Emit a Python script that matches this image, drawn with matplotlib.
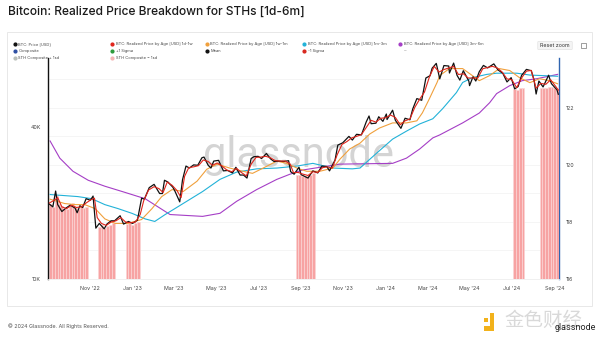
import numpy as np
import pandas as pd
import matplotlib
matplotlib.use("Agg")
import matplotlib.pyplot as plt
import matplotlib.dates as mdates
from matplotlib.lines import Line2D
from matplotlib.patches import Rectangle, FancyBboxPatch

plt.rcParams['font.family'] = ['Inter', 'DejaVu Sans']

# ---------------------------------------------------------------------------
# data (values in USD thousands)
# ---------------------------------------------------------------------------
price_dates = [
    "2022-09-03", "2022-09-08", "2022-09-12", "2022-09-15", "2022-09-21", "2022-09-27",
    "2022-10-03", "2022-10-10", "2022-10-13", "2022-10-17", "2022-10-21", "2022-10-26",
    "2022-11-01", "2022-11-05", "2022-11-09", "2022-11-14", "2022-11-21", "2022-11-25",
    "2022-12-01", "2022-12-06", "2022-12-14", "2022-12-19", "2022-12-26", "2023-01-01",
    "2023-01-08", "2023-01-14", "2023-01-18", "2023-01-25", "2023-02-01", "2023-02-09",
    "2023-02-13", "2023-02-16", "2023-02-21", "2023-02-28", "2023-03-03", "2023-03-10",
    "2023-03-14", "2023-03-19", "2023-03-24", "2023-03-30", "2023-04-05", "2023-04-11",
    "2023-04-14", "2023-04-20", "2023-04-24", "2023-04-28", "2023-05-05", "2023-05-12",
    "2023-05-18", "2023-05-25", "2023-05-30", "2023-06-05", "2023-06-10", "2023-06-15",
    "2023-06-21", "2023-06-25", "2023-07-01", "2023-07-06", "2023-07-13", "2023-07-19",
    "2023-07-24", "2023-07-31", "2023-08-07", "2023-08-14", "2023-08-17", "2023-08-22",
    "2023-08-29", "2023-09-01", "2023-09-11", "2023-09-18", "2023-09-25", "2023-10-01",
    "2023-10-08", "2023-10-12", "2023-10-20", "2023-10-24", "2023-10-31", "2023-11-09",
    "2023-11-14", "2023-11-20", "2023-11-27", "2023-12-04", "2023-12-08", "2023-12-11",
    "2023-12-18", "2023-12-22", "2023-12-28", "2024-01-02", "2024-01-03", "2024-01-11",
    "2024-01-15", "2024-01-23", "2024-01-29", "2024-02-05", "2024-02-09", "2024-02-15",
    "2024-02-22", "2024-02-28", "2024-03-05", "2024-03-08", "2024-03-14", "2024-03-19",
    "2024-03-25", "2024-04-01", "2024-04-02", "2024-04-08", "2024-04-13", "2024-04-17",
    "2024-04-22", "2024-04-30", "2024-05-01", "2024-05-06", "2024-05-10", "2024-05-15",
    "2024-05-21", "2024-05-27", "2024-06-05", "2024-06-11", "2024-06-18", "2024-06-24",
    "2024-06-30", "2024-07-05", "2024-07-10", "2024-07-15", "2024-07-22", "2024-07-29",
    "2024-08-02", "2024-08-05", "2024-08-09", "2024-08-15", "2024-08-23", "2024-08-27",
    "2024-09-01", "2024-09-04", "2024-09-06",
]
price_k = [
    19.8, 19.3, 22.3, 19.7, 18.5, 19.1,
    19.6, 19.1, 18.3, 19.5, 19.2, 20.8,
    20.5, 21.3, 15.9, 16.6, 15.8, 16.5,
    17.0, 17.0, 17.8, 16.5, 16.9, 16.6,
    17.1, 20.9, 20.7, 23.0, 23.7, 21.8,
    21.8, 24.6, 24.2, 23.1, 22.3, 20.2,
    24.7, 28.0, 27.5, 28.3, 28.2, 30.2,
    30.4, 28.2, 27.5, 29.3, 29.5, 26.8,
    26.9, 26.3, 27.7, 25.8, 25.8, 25.1,
    30.0, 30.5, 30.6, 30.0, 31.4, 29.9,
    29.2, 29.3, 29.2, 29.4, 26.6, 26.0,
    27.7, 25.9, 25.1, 26.8, 26.3, 28.0,
    27.9, 26.8, 29.6, 33.9, 34.6, 36.7,
    35.5, 37.4, 37.2, 41.9, 44.2, 41.2,
    41.4, 43.9, 42.1, 45.0, 42.8, 46.6,
    42.5, 39.5, 43.3, 42.7, 47.1, 51.8,
    51.0, 62.5, 63.8, 68.3, 71.4, 62.0,
    70.0, 69.7, 65.4, 71.6, 64.0, 61.3,
    66.8, 60.7, 58.3, 63.2, 60.8, 66.2,
    70.1, 68.5, 71.1, 67.3, 65.2, 60.3,
    62.7, 56.6, 57.8, 64.0, 67.6, 66.8,
    61.4, 54.0, 60.8, 57.6, 64.1, 59.4,
    57.3, 56.2, 53.9,
]

rp_1d1w_dates = [
    "2022-09-03", "2022-09-10", "2022-09-15", "2022-09-21", "2022-09-28", "2022-10-05",
    "2022-10-12", "2022-10-19", "2022-10-26", "2022-11-02", "2022-11-07", "2022-11-11",
    "2022-11-17", "2022-11-24", "2022-12-01", "2022-12-08", "2022-12-15", "2022-12-22",
    "2022-12-29", "2023-01-05", "2023-01-12", "2023-01-17", "2023-01-24", "2023-02-01",
    "2023-02-08", "2023-02-14", "2023-02-20", "2023-02-27", "2023-03-06", "2023-03-12",
    "2023-03-17", "2023-03-23", "2023-03-30", "2023-04-06", "2023-04-13", "2023-04-20",
    "2023-04-26", "2023-05-03", "2023-05-10", "2023-05-17", "2023-05-24", "2023-05-31",
    "2023-06-07", "2023-06-14", "2023-06-21", "2023-06-28", "2023-07-05", "2023-07-12",
    "2023-07-19", "2023-07-26", "2023-08-02", "2023-08-09", "2023-08-16", "2023-08-21",
    "2023-08-28", "2023-09-04", "2023-09-11", "2023-09-18", "2023-09-25", "2023-10-02",
    "2023-10-09", "2023-10-16", "2023-10-23", "2023-10-30", "2023-11-06", "2023-11-13",
    "2023-11-20", "2023-11-27", "2023-12-04", "2023-12-11", "2023-12-18", "2023-12-25",
    "2024-01-01", "2024-01-08", "2024-01-15", "2024-01-22", "2024-01-29", "2024-02-05",
    "2024-02-12", "2024-02-19", "2024-02-26", "2024-03-04", "2024-03-11", "2024-03-18",
    "2024-03-25", "2024-04-01", "2024-04-08", "2024-04-15", "2024-04-22", "2024-04-29",
    "2024-05-06", "2024-05-13", "2024-05-20", "2024-05-27", "2024-06-03", "2024-06-10",
    "2024-06-17", "2024-06-24", "2024-07-01", "2024-07-08", "2024-07-15", "2024-07-22",
    "2024-07-29", "2024-08-05", "2024-08-12", "2024-08-19", "2024-08-26", "2024-09-02",
    "2024-09-06",
]
rp_1d1w_k = [
    20.0, 20.5, 21.0, 19.3, 19.0, 19.6,
    19.2, 19.3, 20.0, 20.6, 20.9, 17.5,
    16.6, 16.3, 16.8, 17.0, 17.5, 16.8,
    16.7, 16.8, 18.0, 20.4, 22.5, 23.2,
    22.8, 22.0, 24.2, 23.5, 22.4, 21.0,
    25.5, 27.6, 27.8, 28.1, 29.6, 29.2,
    28.2, 28.8, 28.0, 27.0, 26.6, 27.4,
    26.4, 25.6, 28.5, 30.3, 30.4, 30.6,
    30.2, 29.4, 29.3, 29.3, 28.6, 26.4,
    26.4, 26.0, 25.7, 26.6, 26.4, 27.6,
    27.8, 27.5, 31.0, 34.1, 35.0, 36.2,
    36.7, 37.3, 39.8, 42.5, 41.8, 43.3,
    43.5, 44.6, 43.6, 40.8, 42.3, 43.0,
    47.8, 51.5, 55.0, 63.0, 69.5, 66.0,
    67.5, 68.5, 69.5, 64.5, 65.0, 62.5,
    62.5, 62.5, 68.0, 68.8, 69.5, 68.5,
    66.0, 62.0, 61.5, 57.2, 62.5, 66.5,
    67.0, 57.0, 59.5, 59.0, 61.5, 58.0,
    56.0,
]

rp_1w1m_dates = [
    "2022-09-04", "2022-09-25", "2022-10-10", "2022-10-24", "2022-11-08", "2022-11-22",
    "2022-12-07", "2022-12-25", "2023-01-14", "2023-01-29", "2023-02-12", "2023-02-27",
    "2023-03-15", "2023-04-04", "2023-04-18", "2023-05-03", "2023-05-21", "2023-06-09",
    "2023-06-23", "2023-07-14", "2023-07-28", "2023-08-11", "2023-08-26", "2023-09-09",
    "2023-09-28", "2023-10-17", "2023-10-27", "2023-11-10", "2023-11-25", "2023-12-09",
    "2023-12-23", "2024-01-11", "2024-01-31", "2024-02-15", "2024-02-23", "2024-03-04",
    "2024-03-15", "2024-03-19", "2024-04-02", "2024-04-21", "2024-05-05", "2024-05-15",
    "2024-05-30", "2024-06-13", "2024-06-28", "2024-07-12", "2024-07-27", "2024-08-10",
    "2024-08-24", "2024-09-05",
]
rp_1w1m_k = [
    20.7, 19.9, 19.7, 19.7, 19.0, 17.3,
    16.6, 16.6, 17.2, 19.0, 21.2, 22.6,
    22.2, 24.4, 27.2, 28.5, 27.5, 26.7,
    26.2, 28.0, 29.3, 28.7, 27.5, 26.7,
    26.7, 27.5, 29.8, 32.7, 34.5, 37.5,
    39.6, 41.5, 41.5, 42.3, 45.5, 51.7,
    59.9, 63.9, 68.1, 68.1, 63.9, 61.0,
    63.9, 68.1, 66.9, 62.7, 59.9, 62.1,
    61.0, 59.3,
]

rp_1m3m_dates = [
    "2022-09-04", "2022-10-14", "2022-11-03", "2022-11-22", "2022-12-11", "2022-12-31",
    "2023-01-19", "2023-02-02", "2023-02-17", "2023-03-03", "2023-03-20", "2023-04-12",
    "2023-05-07", "2023-05-31", "2023-06-29", "2023-07-28", "2023-08-26", "2023-09-18",
    "2023-10-17", "2023-11-14", "2023-11-25", "2023-12-19", "2024-01-11", "2024-01-31",
    "2024-02-19", "2024-03-09", "2024-03-23", "2024-04-12", "2024-04-21", "2024-05-05",
    "2024-05-26", "2024-06-09", "2024-07-08", "2024-07-27", "2024-09-05",
]
rp_1m3m_k = [
    21.6, 21.2, 20.8, 19.7, 19.0, 18.2,
    17.3, 16.9, 18.0, 19.0, 20.3, 22.2,
    24.8, 26.5, 27.3, 27.5, 28.0, 28.7,
    27.5, 27.3, 27.5, 31.5, 35.8, 38.5,
    41.1, 43.1, 47.2, 54.7, 60.0, 62.7,
    64.6, 65.3, 65.3, 64.2, 63.5,
]

rp_3m6m_dates = [
    "2022-09-04", "2022-09-18", "2022-10-07", "2022-10-29", "2022-11-22", "2022-12-17",
    "2023-01-19", "2023-02-24", "2023-04-12", "2023-05-07", "2023-05-31", "2023-06-29",
    "2023-07-28", "2023-08-16", "2023-09-03", "2023-10-27", "2024-01-11", "2024-01-31",
    "2024-02-19", "2024-03-09", "2024-03-19", "2024-04-21", "2024-05-15", "2024-05-30",
    "2024-06-09", "2024-06-28", "2024-07-16", "2024-08-06", "2024-09-05",
]
rp_3m6m_k = [
    35.2, 30.1, 26.7, 24.6, 23.3, 22.2,
    20.8, 18.0, 17.7, 18.2, 20.3, 22.6,
    24.8, 26.0, 27.0, 28.5, 28.7, 30.1,
    32.7, 36.2, 37.2, 41.5, 45.4, 49.9,
    54.2, 58.3, 61.0, 62.1, 64.6,
]

# days where price sits below the STH band (pink columns)
band_dates = [
    "2022-09-03", "2022-09-07", "2022-09-11", "2022-09-15", "2022-09-19", "2022-09-23",
    "2022-09-27", "2022-10-01", "2022-10-05", "2022-10-09", "2022-10-13", "2022-10-17",
    "2022-10-21", "2022-10-25",
    "2022-11-12", "2022-11-16", "2022-11-20", "2022-11-24", "2022-11-28", "2022-12-02",
    "2022-12-22", "2022-12-26", "2022-12-30", "2023-01-03", "2023-01-07",
    "2023-08-24", "2023-08-28", "2023-09-01", "2023-09-05", "2023-09-09", "2023-09-13",
    "2023-09-17",
    "2024-07-03", "2024-07-07", "2024-07-11", "2024-07-15",
    "2024-08-10", "2024-08-14", "2024-08-18", "2024-08-22", "2024-08-26", "2024-08-30",
    "2024-09-03",
]
band_k = [
    19.8, 19.3, 21.5, 19.8, 19.4, 18.9,
    19.0, 19.4, 20.0, 19.2, 19.0, 19.4,
    19.1, 19.3,
    16.0, 16.3, 15.9, 16.2, 16.3, 16.6,
    16.5, 16.7, 16.4, 16.6, 16.8,
    25.8, 25.9, 25.6, 25.5, 25.7, 25.9,
    26.2,
    56.5, 56.0, 57.0, 56.8,
    57.2, 56.8, 57.3, 57.8, 57.8, 57.3,
    56.8,
]

x_ticks = ["2022-11-01", "2023-01-01", "2023-03-01", "2023-05-01", "2023-07-01",
           "2023-09-01", "2023-11-01", "2024-01-01", "2024-03-01", "2024-05-01",
           "2024-07-01", "2024-09-01"]
left_ticks = [10000, 40000]
left_tick_labels = ["10K", "40K"]
right_ticks = [116, 118, 120, 122]

legend_rows = [
    [("BTC: Price [USD]", "#111111"),
     ("BTC: Realized Price by Age [USD] 1d-1w", "#e0251b"),
     ("BTC: Realized Price by Age [USD] 1w-1m", "#f0a03c"),
     ("BTC: Realized Price by Age [USD] 1m-3m", "#22b2d8"),
     ("BTC: Realized Price by Age [USD] 3m-6m", "#a53ec6")],
    [("Composite", "#2d4fa3"),
     ("+1 Sigma", "#2e9a3c"),
     ("Mean", "#111111"),
     ("-1 Sigma", "#d8281f"),
     ("--", None)],
    [("STH Composite + 1sd", "#b9bfb9"),
     ("STH Composite \u2212 1sd", "#f5b5b5")],
]

C_PRICE = "#111111"
C_1D1W = "#e0251b"
C_1W1M = "#f0a03c"
C_1M3M = "#22b2d8"
C_3M6M = "#a53ec6"


def to_dt(lst):
    return pd.to_datetime(lst)


fig = plt.figure(figsize=(6, 3.38), dpi=100)
W, H = 600.0, 338.0

# outer panel frame
fig.add_artist(Rectangle((7 / W, 1 - 306 / H), 585 / W, 274 / H, transform=fig.transFigure,
                         fill=False, edgecolor="#e8e8e8", linewidth=0.7))

fig.text(8 / W, 1 - 12 / H, "Bitcoin: Realized Price Breakdown for STHs [1d-6m]",
         fontsize=8.6, color="#1a1a1a", va="center", ha="left", fontweight="medium")

# legend, drawn by hand as in the glassnode UI
col_x = [15, 112, 207, 304, 400]
row_y = [44, 51, 58]
for r, row in enumerate(legend_rows):
    for c, (label, color) in enumerate(row):
        x = col_x[c] / W
        y = 1 - row_y[r] / H
        if color is not None:
            fig.add_artist(Line2D([x], [y], marker="o", markersize=2.0, color=color,
                                  linestyle="none", transform=fig.transFigure))
        fig.text(x + 3.5 / W, y, label, fontsize=2.9, color="#444444", va="center", ha="left")

fig.add_artist(FancyBboxPatch((539 / W, 1 - 49 / H), 32 / W, 7 / H, transform=fig.transFigure,
                              boxstyle="round,pad=0.002", facecolor="#f5f5f5",
                              edgecolor="#dddddd", linewidth=0.4))
fig.text(555 / W, 1 - 45.5 / H, "Reset zoom", fontsize=3.8, color="#333333",
         va="center", ha="center")
fig.add_artist(Rectangle((581 / W, 1 - 48 / H), 5 / W, 5 / H, transform=fig.transFigure,
                         fill=False, edgecolor="#777777", linewidth=0.5))

# main axes
ax = fig.add_axes([48 / W, 1 - 279 / H, (559 - 48) / W, (279 - 58) / H])
ax.set_yscale("log")
ax.set_ylim(10000, 75000)
ax.set_xlim(pd.Timestamp("2022-09-01"), pd.Timestamp("2024-09-07"))

ax.text(0.49, 0.56, "glassnode", transform=ax.transAxes, fontsize=30, color="#d4d4d4",
        ha="center", va="center", zorder=0, family=["Roboto", "DejaVu Sans"])

bd = to_dt(band_dates)
ax.bar(bd, np.array(band_k) * 1000, width=4, align="edge", bottom=0,
       color="#f7a3a3", edgecolor="#fbd5d5", linewidth=0.5, zorder=1)

ax.plot(to_dt(rp_3m6m_dates), np.array(rp_3m6m_k) * 1000, color=C_3M6M, lw=0.8, zorder=2)
ax.plot(to_dt(rp_1m3m_dates), np.array(rp_1m3m_k) * 1000, color=C_1M3M, lw=0.8, zorder=3)
ax.plot(to_dt(rp_1w1m_dates), np.array(rp_1w1m_k) * 1000, color=C_1W1M, lw=0.8, zorder=4)
ax.plot(to_dt(price_dates), np.array(price_k) * 1000, color=C_PRICE, lw=0.9, zorder=5)
ax.plot(to_dt(rp_1d1w_dates), np.array(rp_1d1w_k) * 1000, color=C_1D1W, lw=0.8, zorder=6)

ax.yaxis.set_minor_locator(matplotlib.ticker.NullLocator())
ax.set_yticks(left_ticks)
ax.set_yticklabels(left_tick_labels)
ax.set_xticks(to_dt(x_ticks))
ax.xaxis.set_major_formatter(mdates.DateFormatter("%b '%y"))
ax.tick_params(axis="both", length=0, labelsize=3.8, labelcolor="#444444", pad=5)
ax.tick_params(axis="y", pad=5)

for side in ["top", "right"]:
    ax.spines[side].set_visible(False)
ax.spines["left"].set_color("#111111")
ax.spines["left"].set_linewidth(1.0)
ax.spines["bottom"].set_color("#eeeeee")
ax.spines["bottom"].set_linewidth(0.6)

# right axis (composite scale)
ax2 = ax.twinx()
ax2.set_ylim(116, 123.75)
ax2.set_yticks(right_ticks)
ax2.set_yticklabels([str(t) for t in right_ticks])
ax2.tick_params(axis="y", length=0, labelsize=3.8, labelcolor="#444444", pad=5)
for side in ["top", "left", "bottom"]:
    ax2.spines[side].set_visible(False)
ax2.spines["right"].set_color("#3065b0")
ax2.spines["right"].set_linewidth(1.0)
for v in range(116, 124):
    ax2.axhline(v, color="#f1f1f1", lw=0.5, zorder=0)
ax2.set_zorder(ax.get_zorder() - 1)
ax.patch.set_visible(False)

# footer
fig.text(8 / W, 1 - 326 / H, "\u00a9 2024 Glassnode. All Rights Reserved.", fontsize=3.8,
         color="#555555", va="center", ha="left")
fig.add_artist(Rectangle((484 / W, 1 - 331 / H), 10 / W, 5 / H, transform=fig.transFigure,
                         facecolor="#f2b21b", edgecolor="none"))
fig.add_artist(Rectangle((490 / W, 1 - 326 / H), 4 / W, 13 / H, transform=fig.transFigure,
                         facecolor="#f2b21b", edgecolor="none"))
fig.add_artist(Rectangle((484 / W, 1 - 322 / H), 4 / W, 4 / H, transform=fig.transFigure,
                         facecolor="#f2b21b", edgecolor="none"))
fig.text(543 / W, 1 - 320 / H, "金色财经", fontsize=14, color="#d9d9d9", va="center",
         ha="center", family=["Noto Sans CJK SC", "DejaVu Sans"])
fig.text(596 / W, 1 - 328 / H, "glassnode", fontsize=6.5, color="#222222", va="center",
         ha="right", family=["Roboto", "DejaVu Sans"])

fig.savefig("out.png", dpi=100)
